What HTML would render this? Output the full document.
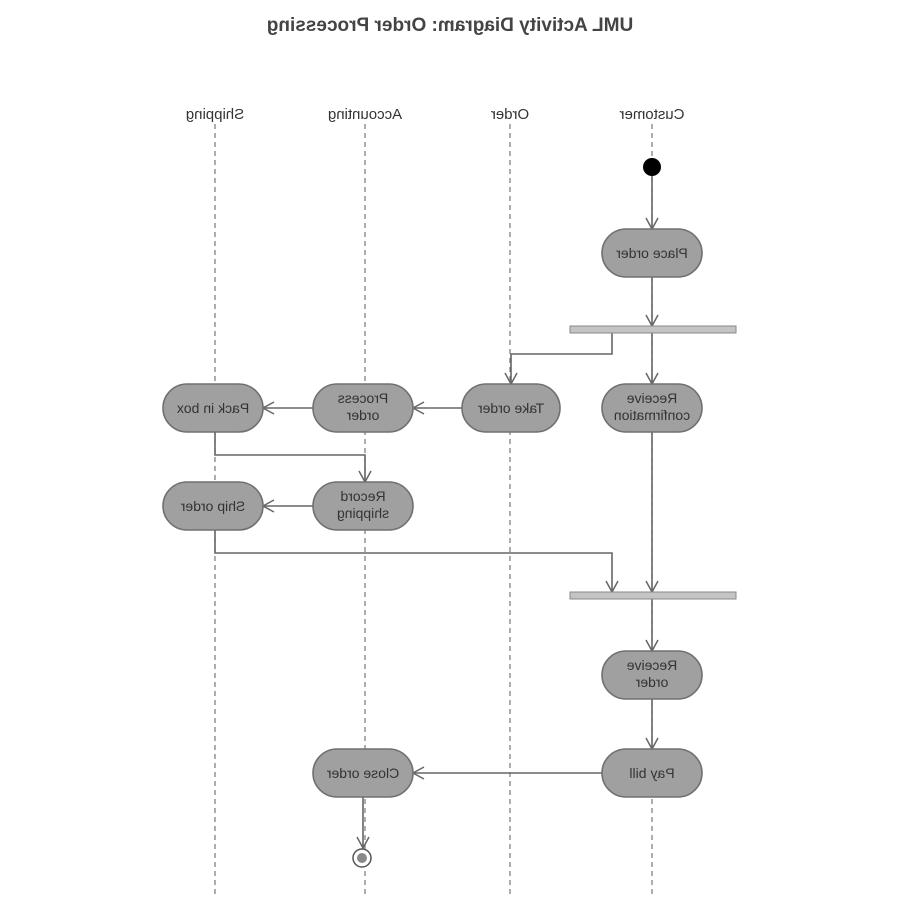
<!DOCTYPE html>
<html><head><style>
html,body{margin:0;padding:0;background:#fff;}
svg{display:block;}
text{font-family:"Liberation Sans",sans-serif;fill:#333;}
</style></head><body>
<svg width="900" height="900" viewBox="0 0 900 900" xmlns="http://www.w3.org/2000/svg">
<defs>
<marker id="a" markerWidth="14" markerHeight="14" refX="12" refY="7" orient="auto" markerUnits="userSpaceOnUse">
<path d="M1,1 L12,7 L1,13" fill="none" stroke="#666" stroke-width="1.5"/>
</marker>
</defs>
<text transform="translate(450,31) scale(-1,1)" font-size="19" text-anchor="middle" style="font-weight:bold;fill:#444">UML Activity Diagram: Order Processing</text>
<!-- lanes -->
<g stroke="#777" stroke-width="1.2" stroke-dasharray="5,4">
<line x1="652" y1="124" x2="652" y2="895"/>
<line x1="510" y1="124" x2="510" y2="895"/>
<line x1="365" y1="124" x2="365" y2="895"/>
<line x1="215" y1="124" x2="215" y2="895"/>
</g>
<g font-size="15">
<text transform="translate(652,119) scale(-1,1)" text-anchor="middle">Customer</text>
<text transform="translate(510,119) scale(-1,1)" text-anchor="middle">Order</text>
<text transform="translate(365,119) scale(-1,1)" text-anchor="middle">Accounting</text>
<text transform="translate(215,119) scale(-1,1)" text-anchor="middle">Shipping</text>
</g>
<!-- connectors -->
<g stroke="#666" stroke-width="1.6" fill="none" marker-end="url(#a)">
<line x1="652" y1="176" x2="652" y2="229"/>
<line x1="652" y1="277" x2="652" y2="326"/>
<line x1="652" y1="333" x2="652" y2="384"/>
<polyline points="612,333 612,354 511,354 511,384"/>
<line x1="462" y1="408" x2="413" y2="408"/>
<line x1="313" y1="408" x2="263" y2="408"/>
<polyline points="215,432 215,455 365,455 365,482"/>
<line x1="313" y1="506" x2="263" y2="506"/>
<polyline points="215,530 215,553 612,553 612,592"/>
<line x1="652" y1="432" x2="652" y2="592"/>
<line x1="652" y1="599" x2="652" y2="651"/>
<line x1="652" y1="699" x2="652" y2="749"/>
<line x1="602" y1="773" x2="413" y2="773"/>
<line x1="363" y1="797" x2="363" y2="848"/>
</g>
<!-- start/end -->
<circle cx="652" cy="167" r="9" fill="#000"/>
<circle cx="362" cy="858" r="9" fill="#fff" stroke="#555" stroke-width="1.5"/>
<circle cx="362" cy="858" r="5" fill="#888"/>
<!-- bars -->
<rect x="570" y="326" width="166" height="7" fill="#c4c4c4" stroke="#888"/>
<rect x="570" y="592" width="166" height="7" fill="#c4c4c4" stroke="#888"/>
<!-- nodes -->
<g fill="#a0a0a0" stroke="#707070" stroke-width="1.6">
<rect x="602" y="229" width="100" height="48" rx="24"/>
<rect x="602" y="384" width="100" height="48" rx="24"/>
<rect x="462" y="384" width="98" height="48" rx="24"/>
<rect x="313" y="384" width="100" height="48" rx="24"/>
<rect x="163" y="384" width="100" height="48" rx="24"/>
<rect x="313" y="482" width="100" height="48" rx="24"/>
<rect x="163" y="482" width="100" height="48" rx="24"/>
<rect x="602" y="651" width="100" height="48" rx="24"/>
<rect x="602" y="749" width="100" height="48" rx="24"/>
<rect x="313" y="749" width="100" height="48" rx="24"/>
</g>
<g font-size="14" text-anchor="middle">
<text transform="translate(652,258) scale(-1,1)">Place order</text>
<text transform="translate(652,403) scale(-1,1)">Receive</text>
<text transform="translate(652,420) scale(-1,1)">confirmation</text>
<text transform="translate(511,413) scale(-1,1)">Take order</text>
<text transform="translate(363,403) scale(-1,1)">Process</text>
<text transform="translate(363,420) scale(-1,1)">order</text>
<text transform="translate(213,413) scale(-1,1)">Pack in box</text>
<text transform="translate(363,501) scale(-1,1)">Record</text>
<text transform="translate(363,518) scale(-1,1)">shipping</text>
<text transform="translate(213,511) scale(-1,1)">Ship order</text>
<text transform="translate(652,670) scale(-1,1)">Receive</text>
<text transform="translate(652,687) scale(-1,1)">order</text>
<text transform="translate(652,778) scale(-1,1)">Pay bill</text>
<text transform="translate(363,778) scale(-1,1)">Close order</text>
</g>
</svg>
</body></html>
